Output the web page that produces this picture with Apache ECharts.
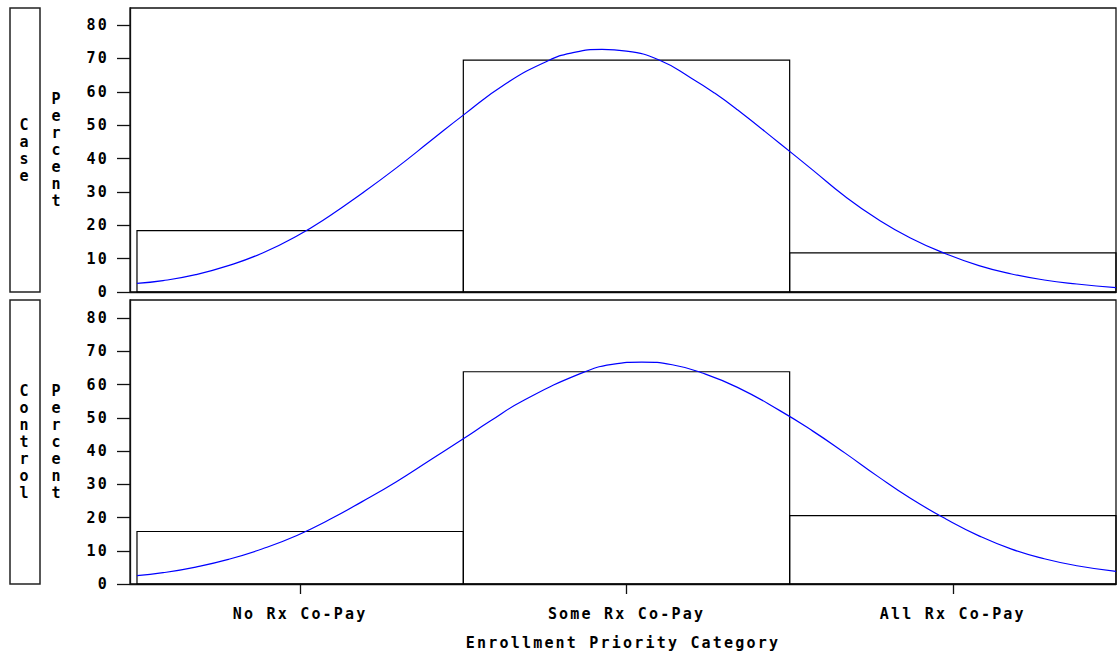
<!DOCTYPE html>
<html>
<head>
<meta charset="utf-8">
<script src="https://cdn.jsdelivr.net/npm/echarts@6/dist/echarts.min.js"></script>
<style>
  html, body { margin: 0; padding: 0; background: #fff; }
  #main { width: 1117px; height: 654px; }
  #main text { letter-spacing: 2.2px; }
</style>
</head>
<body>
<div id="main"></div>
<script>
// ---- data ----
const categories = ['No Rx Co-Pay', 'Some Rx Co-Pay', 'All Rx Co-Pay'];
const panelLabels = ['Case', 'Control'];
const casePct = [18.4, 69.5, 11.7];
const controlPct = [15.8, 63.9, 20.6];
const yTicks = [0, 10, 20, 30, 40, 50, 60, 70, 80];
const xTicks = [1, 2, 3];
// fitted normal curves, [category position, percent]
const caseCurve = [
  [0.50, 2.6], [0.58, 3.4], [0.68, 5.2], [0.78, 7.9], [0.885, 11.7], [0.99, 16.8],
  [1.09, 22.8], [1.19, 29.6], [1.295, 37.2], [1.40, 45.3], [1.50, 53.0], [1.63, 62.4],
  [1.76, 69.3], [1.83, 71.6], [1.925, 72.7], [2.00, 72.2], [2.10, 69.5], [2.20, 64.0],
  [2.27, 59.6], [2.34, 54.6], [2.47, 44.5], [2.57, 36.6], [2.67, 28.6],
  [2.77, 21.8], [2.87, 16.2], [2.98, 11.4], [3.08, 7.9], [3.18, 5.4], [3.28, 3.6],
  [3.38, 2.4], [3.50, 1.3]
];
const controlCurve = [
  [0.50, 2.5], [0.58, 3.4], [0.68, 5.1], [0.78, 7.4], [0.885, 10.6], [0.99, 14.6],
  [1.09, 19.4], [1.19, 24.8], [1.295, 30.8], [1.40, 37.4], [1.50, 43.7], [1.58, 48.9],
  [1.68, 55.0], [1.86, 63.4], [1.956, 66.1], [2.047, 66.8], [2.14, 66.0], [2.23, 63.6],
  [2.34, 59.2], [2.47, 52.2], [2.57, 46.1], [2.67, 39.4], [2.77, 32.4],
  [2.87, 25.8], [2.98, 19.5], [3.08, 14.5], [3.18, 10.5], [3.28, 7.6], [3.38, 5.5],
  [3.50, 3.8]
];

const FONT = 'DejaVu Sans Mono';
const textBase = { fontFamily: FONT, fontWeight: 'bold', fontSize: 15, color: '#000' };
const vertical = s => s.split('').join('\n');

function renderBar(params, api) {
  const x = api.value(0), v = api.value(1);
  const p0 = api.coord([x - 0.5, v]);
  const p1 = api.coord([x + 0.5, 0]);
  return {
    type: 'rect',
    shape: { x: p0[0], y: p0[1], width: p1[0] - p0[0], height: p1[1] - p0[1] },
    style: { fill: 'none', stroke: '#000', lineWidth: 1.2 }
  };
}

const grids = [
  { left: 130, right: 1, top: 8, height: 284 },
  { left: 130, right: 1, top: 300, height: 284 }
];

function yAxis(idx, max) {
  return {
    type: 'value', gridIndex: idx, min: 0, max: max,
    name: vertical('Percent'), nameLocation: 'middle', nameRotate: 0, nameGap: 73,
    nameTextStyle: Object.assign({}, textBase, { lineHeight: 17, align: 'center', verticalAlign: 'middle' }),
    axisLine: { show: true, lineStyle: { color: '#111', width: 1.3 } },
    axisTick: { show: true, inside: false, length: 13, customValues: yTicks, lineStyle: { color: '#111', width: 1.3 } },
    axisLabel: Object.assign({}, textBase, { margin: 21, customValues: yTicks }),
    splitLine: { show: false }
  };
}

function xAxis(idx, showLabels) {
  return {
    type: 'value', gridIndex: idx, min: 0.4786, max: 3.5,
    name: showLabels ? 'Enrollment Priority Category' : '',
    nameLocation: 'middle', nameGap: 51,
    nameTextStyle: textBase,
    axisLine: { show: true, onZero: false, lineStyle: { color: '#111', width: 1.3 } },
    axisTick: { show: showLabels, length: 10, customValues: xTicks, lineStyle: { color: '#111', width: 1.3 } },
    axisLabel: Object.assign({}, textBase, {
      show: showLabels, margin: 22, customValues: xTicks,
      formatter: v => categories[Math.round(v) - 1] || ''
    }),
    splitLine: { show: false }
  };
}

const chart = echarts.init(document.getElementById('main'), null, { renderer: 'svg' });

const boxes = grids.map((g, i) => ({
  type: 'group',
  children: [
    { type: 'rect', shape: { x: 10, y: g.top, width: 30, height: g.height },
      style: { fill: 'none', stroke: '#222', lineWidth: 1.5 } },
    { type: 'text', x: 25, y: g.top + g.height / 2,
      style: {
        text: vertical(panelLabels[i]), fill: '#000', lineHeight: 17,
        font: 'bold 15px "' + FONT + '"', align: 'center', verticalAlign: 'middle'
      } }
  ]
}));

chart.setOption({
  animation: false,
  backgroundColor: '#fff',
  grid: grids.map(g => Object.assign({ show: true, borderColor: '#111', borderWidth: 1.3, containLabel: false }, g)),
  xAxis: [xAxis(0, false), xAxis(1, true)],
  yAxis: [yAxis(0, 85.1), yAxis(1, 85.5)],
  graphic: boxes,
  series: [
    { type: 'custom', xAxisIndex: 0, yAxisIndex: 0, renderItem: renderBar,
      data: casePct.map((v, i) => [i + 1, v]), encode: { x: 0, y: 1 } },
    { type: 'line', xAxisIndex: 0, yAxisIndex: 0, data: caseCurve, smooth: true,
      showSymbol: false, lineStyle: { color: '#0000ff', width: 1.2 } },
    { type: 'custom', xAxisIndex: 1, yAxisIndex: 1, renderItem: renderBar,
      data: controlPct.map((v, i) => [i + 1, v]), encode: { x: 0, y: 1 } },
    { type: 'line', xAxisIndex: 1, yAxisIndex: 1, data: controlCurve, smooth: true,
      showSymbol: false, lineStyle: { color: '#0000ff', width: 1.2 } }
  ]
});
</script>
</body>
</html>
